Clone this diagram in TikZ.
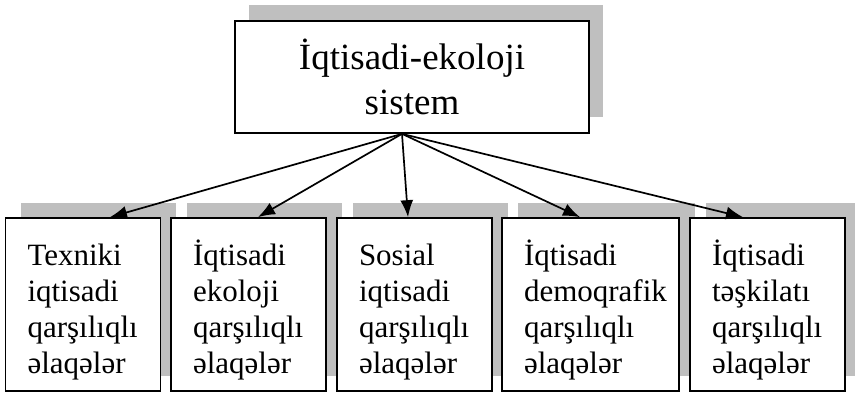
\documentclass[tikz,border=0pt]{standalone}
\usepackage{fontspec}
\setmainfont{Liberation Serif}
\usetikzlibrary{arrows.meta,shadows}

\begin{document}
\begin{tikzpicture}[x=1pt, y=-1pt,
    box/.style={draw, line width=1.7pt, fill=white, rectangle, inner sep=0pt},
    topbox/.style={box, minimum width=354pt, minimum height=112pt, align=center,
        font=\fontsize{37}{45}\selectfont,
        general shadow={fill=black!25, draw=none, shadow xshift=14pt, shadow yshift=16pt}},
    subbox/.style={box, minimum width=155pt, minimum height=173pt, text width=111pt, align=left,
        font=\fontsize{31}{36}\selectfont, execute at begin node={\rule{0pt}{36pt}},
        general shadow={fill=black!25, draw=none, shadow xshift=15.5pt, shadow yshift=15pt}},
    link/.style={line width=1.7pt, -{Latex[length=17pt,width=13pt]}}]
    \useasboundingbox (0,0) rectangle (855,392);

    \node[topbox] (sys) at (412,77) {İqtisadi-ekoloji\\sistem};

    \node[subbox] (tex) at (83,304.5) {Texniki\\iqtisadi\\qarşılıqlı\\əlaqələr};
    \node[subbox] (eko) at (248.5,304.5) {İqtisadi\\ekoloji\\qarşılıqlı\\əlaqələr};
    \node[subbox] (sos) at (414.5,304.5) {Sosial\\iqtisadi\\qarşılıqlı\\əlaqələr};
    \node[subbox, minimum width=177pt, text width=133pt] (dem) at (590.5,304.5) {İqtisadi\\demoqrafik\\qarşılıqlı\\əlaqələr};
    \node[subbox] (tes) at (767.5,304.5) {İqtisadi\\təşkilatı\\qarşılıqlı\\əlaqələr};

    \draw[link] ([xshift=-10pt]sys.south) -- ([xshift=27pt]tex.north);
    \draw[link] ([xshift=-10pt]sys.south) -- ([xshift=9.5pt]eko.north);
    \draw[link] ([xshift=-10pt]sys.south) -- ([xshift=-6.5pt]sos.north);
    \draw[link] ([xshift=-10pt]sys.south) -- ([xshift=-10.5pt]dem.north);
    \draw[link] ([xshift=-10pt]sys.south) -- ([xshift=-24.5pt]tes.north);
\end{tikzpicture}
\end{document}
